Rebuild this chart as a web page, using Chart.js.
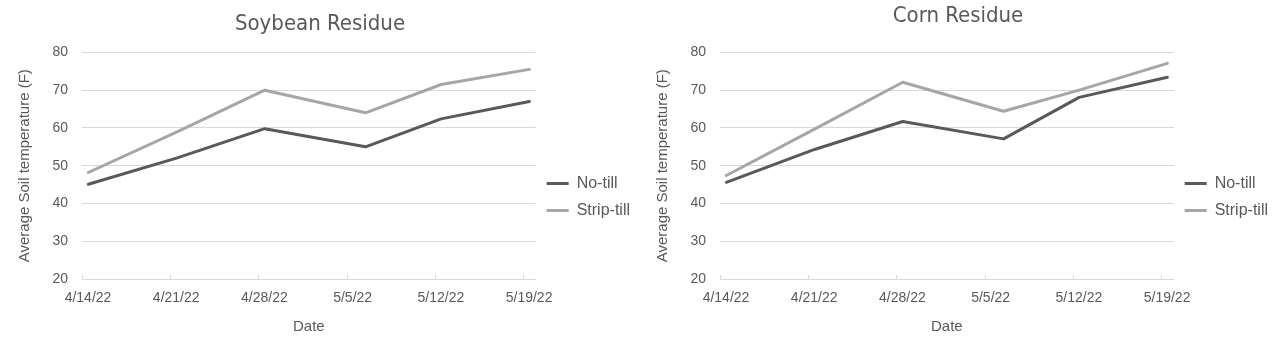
<!DOCTYPE html>
<html>
<head>
<meta charset="utf-8">
<script src="https://cdn.jsdelivr.net/npm/chart.js@4"></script>
<style>
  body { margin: 0; background: #fff; }
  .panel { position: absolute; top: 0; width: 640px; height: 352px; }
</style>
</head>
<body>
<div class="panel" style="left:0px"><canvas id="soy" width="640" height="352"></canvas></div>
<div class="panel" style="left:638px"><canvas id="corn" width="640" height="352"></canvas></div>
<script>
// dates of the readings (m/d/yy)
const dates = ['4/14/22', '4/21/22', '4/28/22', '5/6/22', '5/12/22', '5/19/22'];
const tickLabels = ['4/14/22', '4/21/22', '4/28/22', '5/5/22', '5/12/22', '5/19/22'];
const seriesNames = ['No-till', 'Strip-till'];

const soyNoTill = [45.1, 52.0, 59.8, 55.0, 62.4, 67.0];
const soyStripTill = [48.2, 58.9, 70.0, 64.0, 71.5, 75.5];
const cornNoTill = [45.6, 54.3, 61.7, 57.1, 68.1, 73.4];
const cornStripTill = [47.4, 59.7, 72.1, 64.4, 70.0, 77.1];

const grey = '#595959';
const lightGrey = '#a6a6a6';
const gridGrey = '#d9d9d9';
const sans = "'Liberation Sans', Arial, sans-serif";
const narrow = "'DejaVu Sans Condensed', 'Liberation Sans', sans-serif";

function dayOf(s) {
  const p = s.split('/');
  return Date.UTC(2000 + +p[2], +p[0] - 1, +p[1]) / 86400000;
}
const day0 = dayOf(dates[0]);
// excel date axis: each point sits in the middle of its day
function points(vals) {
  return vals.map((v, i) => ({ x: dayOf(dates[i]) - day0 + 0.5, y: v }));
}

// small tick marks standing on the date axis
const tickMarks = {
  id: 'tickMarks',
  beforeDatasetsDraw(chart) {
    const xs = chart.scales.x, b = chart.chartArea.bottom, ctx = chart.ctx;
    ctx.save();
    ctx.strokeStyle = gridGrey;
    ctx.lineWidth = 1;
    xs.ticks.forEach(t => {
      const px = Math.round(xs.getPixelForValue(t.value)) + 0.5;
      ctx.beginPath();
      ctx.moveTo(px, b - 4);
      ctx.lineTo(px, b);
      ctx.stroke();
    });
    ctx.restore();
  }
};

function makeChart(id, title, noTill, stripTill, titleTop) {
  new Chart(document.getElementById(id), {
    type: 'line',
    data: {
      datasets: [
        { label: seriesNames[0], data: points(noTill), borderColor: grey, backgroundColor: grey,
          borderWidth: 3, pointRadius: 0, borderJoinStyle: 'round', borderCapStyle: 'round' },
        { label: seriesNames[1], data: points(stripTill), borderColor: lightGrey, backgroundColor: lightGrey,
          borderWidth: 3, pointRadius: 0, borderJoinStyle: 'round', borderCapStyle: 'round' }
      ]
    },
    plugins: [tickMarks],
    options: {
      responsive: false,
      animation: false,
      devicePixelRatio: 1,
      layout: { padding: { left: 0, right: 0, top: 0, bottom: 0 } },
      plugins: {
        title: {
          display: true, text: title, color: grey,
          font: { family: narrow, size: 22, weight: 'normal' },
          padding: { top: titleTop + 2, bottom: 24 - titleTop }
        },
        legend: {
          position: 'right',
          title: { display: true, text: '', font: { size: 1 }, padding: { top: 41, bottom: 0 } },
          labels: {
            color: grey, font: { family: sans, size: 16 },
            boxWidth: 22, boxHeight: 3, padding: 11,
            generateLabels(chart) {
              return Chart.defaults.plugins.legend.labels.generateLabels(chart).map(l => {
                l.lineWidth = 0;
                return l;
              });
            }
          }
        },
        tooltip: { enabled: false }
      },
      scales: {
        x: {
          type: 'linear', min: 0, max: 36,
          afterFit(s) { s.height = 73; },
          afterBuildTicks(s) { s.ticks = tickLabels.map((t, i) => ({ value: i * 7 })); },
          ticks: {
            color: grey, font: { family: sans, size: 14 }, padding: 11,
            labelOffset: 6, maxRotation: 0, autoSkip: false,
            callback: (v, i) => tickLabels[i]
          },
          grid: { drawOnChartArea: false, drawTicks: false },
          border: { color: gridGrey, width: 1 },
          title: { display: true, text: 'Date', color: grey, font: { family: sans, size: 15 }, padding: { top: 0, bottom: 16 } }
        },
        y: {
          min: 20, max: 80,
          afterFit(s) { s.width = 82; },
          ticks: { stepSize: 10, color: grey, font: { family: sans, size: 14 }, padding: 14 },
          grid: { color: gridGrey, drawTicks: false },
          border: { display: false },
          title: { display: true, text: 'Average Soil temperature (F)', color: grey, font: { family: sans, size: 15 }, padding: { top: 16, bottom: 0 } }
        }
      }
    }
  });
}

makeChart('soy', 'Soybean Residue', soyNoTill, soyStripTill, 9);
makeChart('corn', 'Corn Residue', cornNoTill, cornStripTill, 1);
</script>
</body>
</html>
